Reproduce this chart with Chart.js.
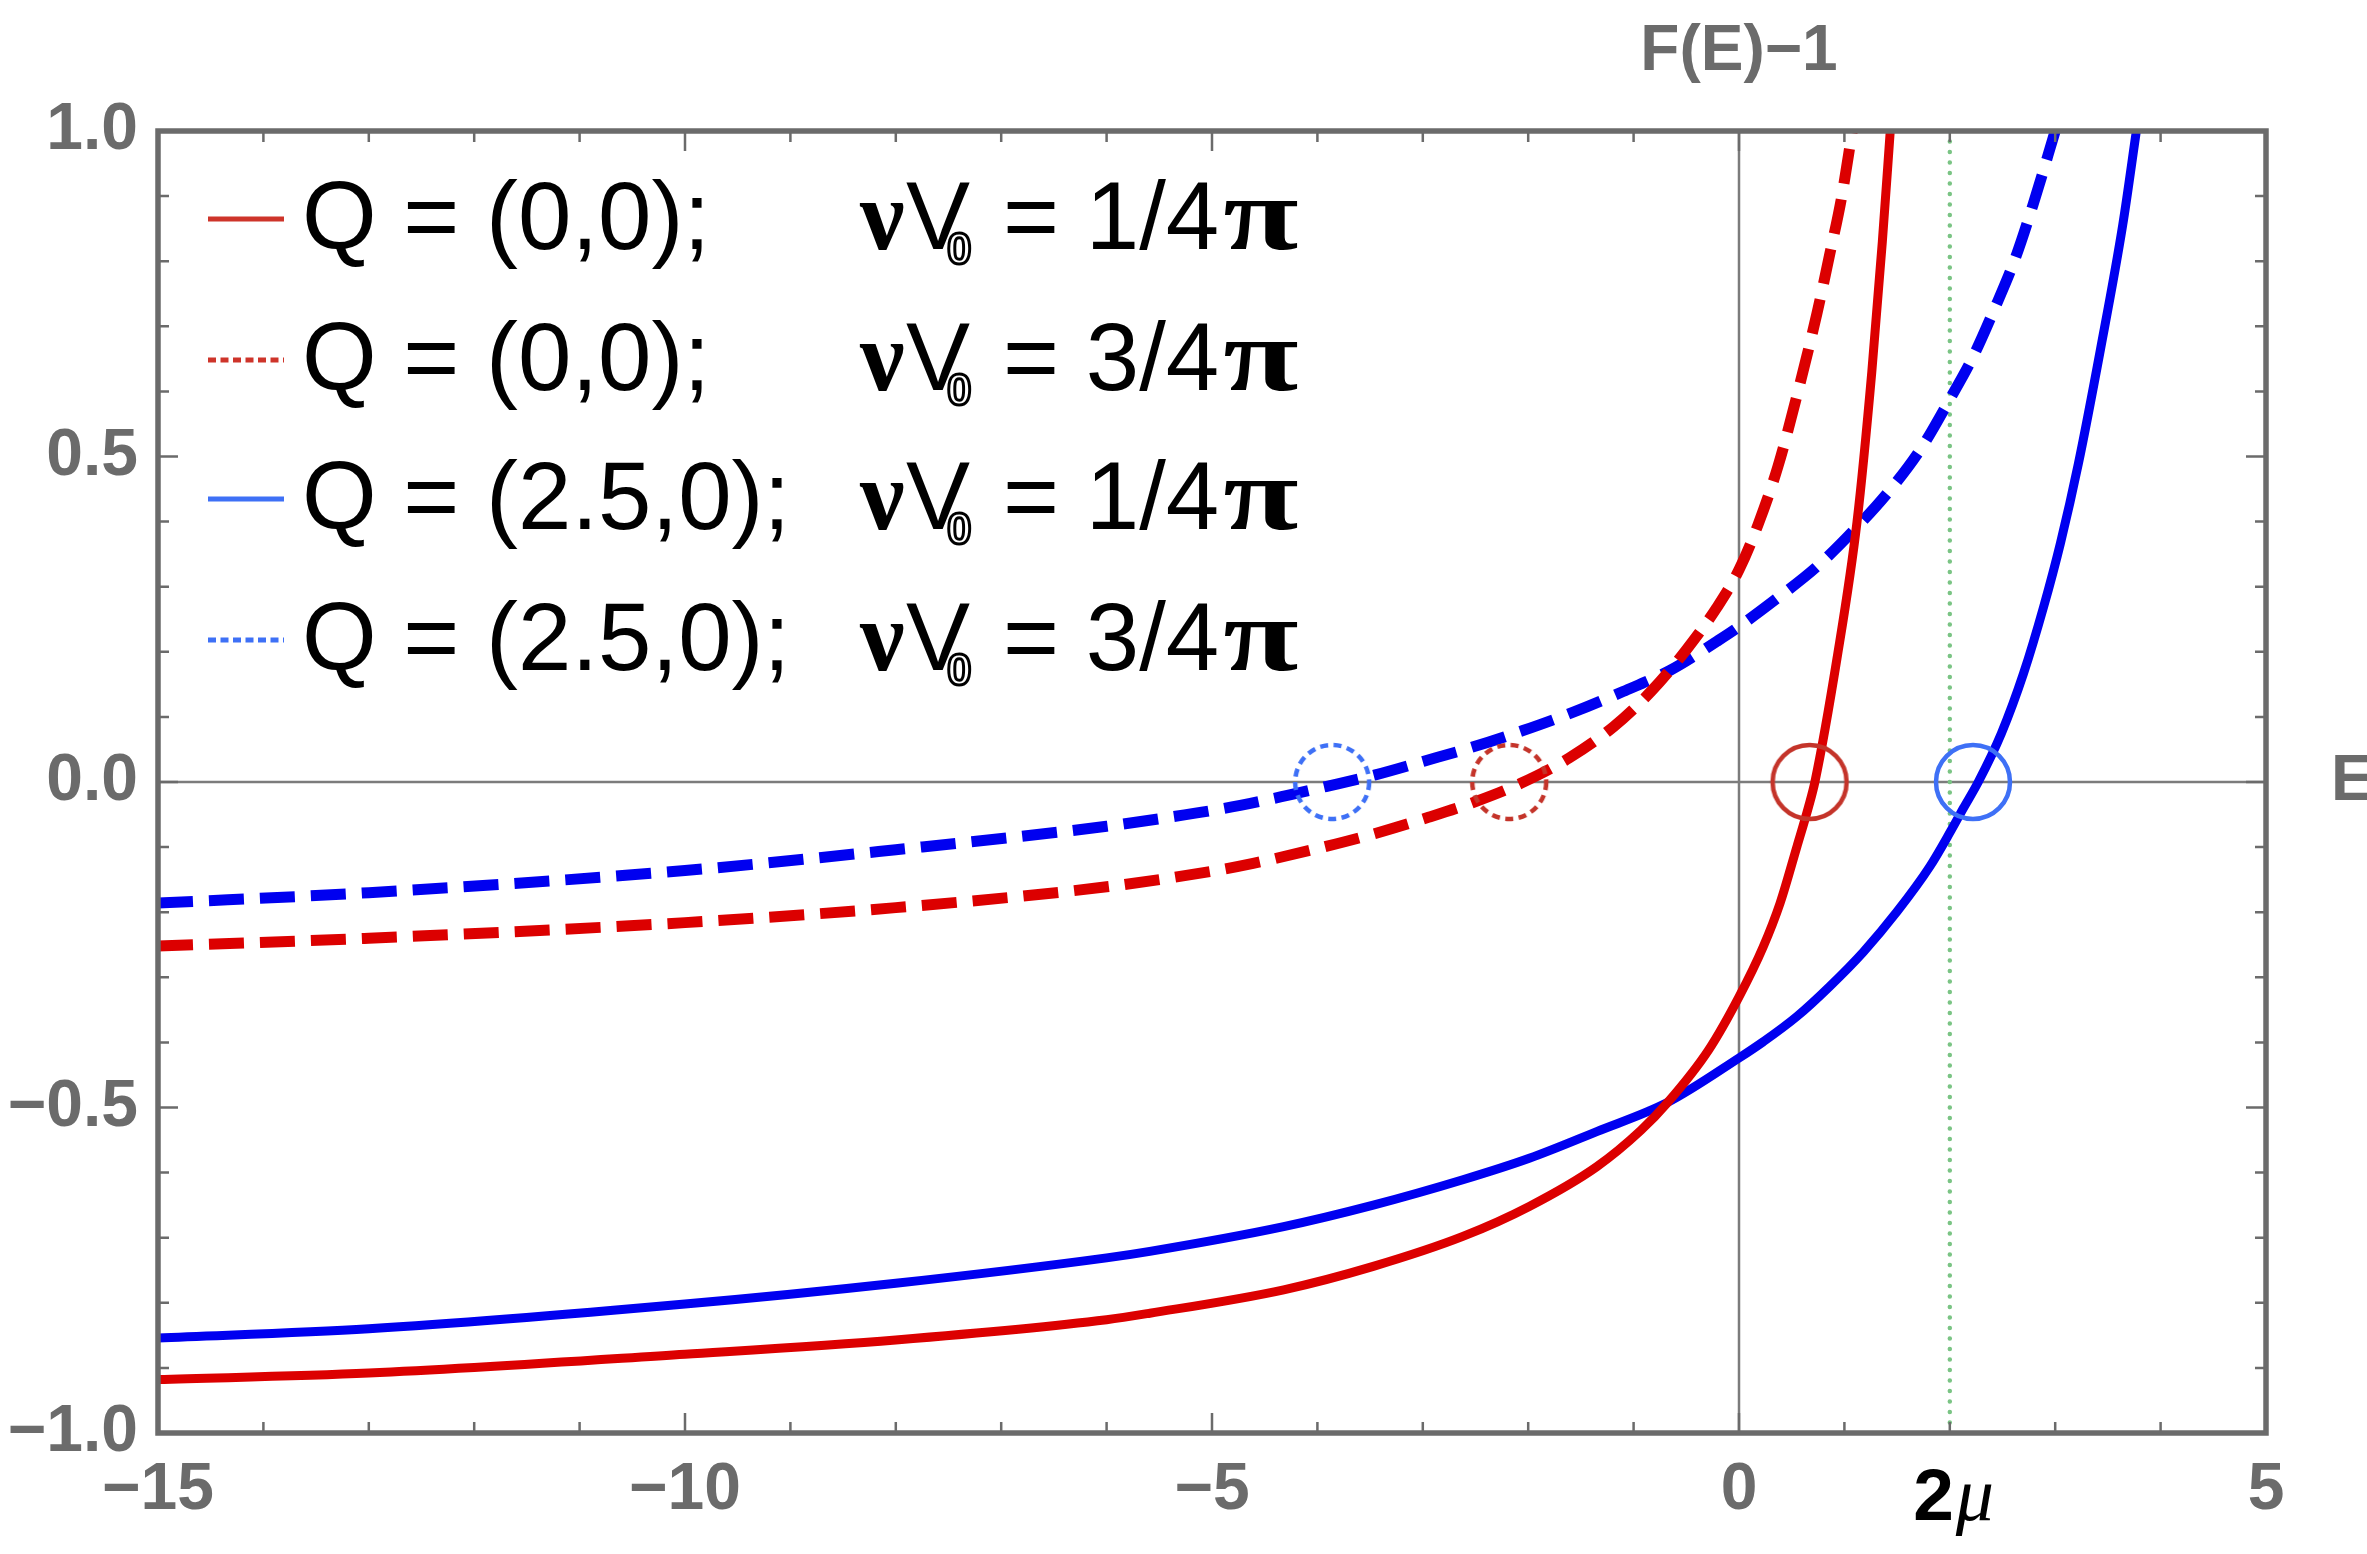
<!DOCTYPE html>
<html>
<head>
<meta charset="utf-8">
<script src="https://cdn.jsdelivr.net/npm/chart.js@4.4.0/dist/chart.umd.min.js"></script>
<style>
html,body{margin:0;padding:0;background:#ffffff;}
#wrap{width:2367px;height:1554px;position:relative;}
</style>
</head>
<body>
<div id="wrap"><canvas id="c"></canvas></div>
<script>
// ---------- data ----------
const redSolidE  = [-15, -13, -10, -8, -6, -5.59, -4.32, -3.47, -2.62, -1.99, -1.35, -0.93, -0.675, -0.29, 0, 0.23, 0.39, 0.55, 0.66, 0.72, 0.93, 1.12, 1.26, 1.36, 1.435];
const redSolidF  = [-0.918, -0.908, -0.879, -0.857, -0.826, -0.816, -0.780, -0.744, -0.698, -0.652, -0.591, -0.535, -0.492, -0.412, -0.330, -0.253, -0.186, -0.099, -0.038, 0, 0.19, 0.40, 0.63, 0.83, 1.0];

const redDashE   = [-15, -13, -10, -8, -6, -5, -4.61, -3.97, -3.45, -2.96, -2.48, -2.07, -1.61, -1.19, -0.83, -0.50, -0.21, 0, 0.18, 0.37, 0.56, 0.74, 0.86, 0.97, 1.075];
const redDashF   = [-0.252, -0.240, -0.216, -0.193, -0.161, -0.137, -0.125, -0.101, -0.079, -0.055, -0.029, -0.002, 0.037, 0.085, 0.140, 0.203, 0.268, 0.326, 0.395, 0.485, 0.60, 0.72, 0.81, 0.895, 1.0];

const blueSolidE = [-15, -13, -10, -8, -6, -5.59, -4.32, -3.47, -2.62, -1.99, -1.35, -0.675, 0, 0.23, 0.55, 0.86, 1.18, 1.50, 1.81, 2.01, 2.13, 2.27, 2.49, 2.70, 2.89, 3.05, 3.22, 3.43, 3.64, 3.77];
const blueSolidF = [-0.854, -0.840, -0.802, -0.770, -0.731, -0.721, -0.683, -0.650, -0.611, -0.578, -0.537, -0.492, -0.424, -0.399, -0.360, -0.314, -0.261, -0.199, -0.130, -0.075, -0.040, 0, 0.075, 0.167, 0.269, 0.367, 0.489, 0.665, 0.855, 1.0];

const blueDashE  = [-15, -13, -10, -8, -6, -5.44, -4.90, -4.41, -3.92, -3.45, -2.99, -2.52, -2.05, -1.56, -1.10, -0.65, -0.21, -0.05, 0.36, 0.74, 1.085, 1.43, 1.73, 1.99, 2.22, 2.43, 2.62, 2.79, 3.0];
const blueDashF  = [-0.186, -0.170, -0.136, -0.104, -0.068, -0.055, -0.041, -0.025, -0.007, 0.011, 0.032, 0.054, 0.079, 0.108, 0.139, 0.172, 0.216, 0.233, 0.282, 0.331, 0.386, 0.448, 0.513, 0.585, 0.653, 0.729, 0.804, 0.887, 1.0];

// zero crossings marked by circles: [redSolid, redDash, blueSolid, blueDash]
const circleE = [0.67, -2.18, 2.22, -3.86];

// 2 mu marker
const twoMuE = 2;

// axes
const xTickValues = [-15, -10, -5, 0, 5];
const yTickValues = [-1, -0.5, 0, 0.5, 1];
const xMinorStep = 1;
const yMinorStep = 0.1;

// legend
const legendQ = ['Q = (0,0);', 'Q = (0,0);', 'Q = (2.5,0);', 'Q = (2.5,0);'];
const legendV = ['= 1/4', '= 3/4', '= 1/4', '= 3/4'];

// ---------- helpers ----------
const RED = '#dc0000', BLUE = '#0000f0';
const CIRC_RED = 'rgb(196,52,42)', CIRC_BLUE = 'rgb(62,112,246)';
const GRAY = '#6b6b6b';
const pts = (xs, ys) => xs.map((x, i) => ({x: x, y: ys[i]}));

function circleStyle(color, dashed) {
  const r = 37, lw = 4.5, s = 2 * r + 10;
  const cv = document.createElement('canvas');
  cv.width = s; cv.height = s;
  const c = cv.getContext('2d');
  c.strokeStyle = color; c.lineWidth = lw;
  if (dashed) c.setLineDash([8, 5.5]);
  c.beginPath(); c.arc(s / 2, s / 2, r, 0, Math.PI * 2); c.stroke();
  return cv;
}

const curveBase = {showLine: true, pointRadius: 0, fill: false, cubicInterpolationMode: 'monotone', borderJoinStyle: 'round'};

const datasets = [
  {data: [{x: circleE[0], y: 0}], pointStyle: circleStyle(CIRC_RED, false), pointRadius: 42, showLine: false},
  {data: [{x: circleE[1], y: 0}], pointStyle: circleStyle(CIRC_RED, true), pointRadius: 42, showLine: false},
  {data: [{x: circleE[2], y: 0}], pointStyle: circleStyle(CIRC_BLUE, false), pointRadius: 42, showLine: false},
  {data: [{x: circleE[3], y: 0}], pointStyle: circleStyle(CIRC_BLUE, true), pointRadius: 42, showLine: false},
  Object.assign({data: pts(redSolidE, redSolidF), borderColor: RED, borderWidth: 9}, curveBase),
  Object.assign({data: pts(blueSolidE, blueSolidF), borderColor: BLUE, borderWidth: 9}, curveBase),
  Object.assign({data: pts(redDashE, redDashF), borderColor: RED, borderWidth: 11, borderDash: [35, 16]}, curveBase),
  Object.assign({data: pts(blueDashE, blueDashF), borderColor: BLUE, borderWidth: 11, borderDash: [35, 16]}, curveBase),
  {data: [{x: twoMuE, y: -1}, {x: twoMuE, y: 1}], showLine: true, pointRadius: 0, borderColor: 'rgb(122,196,132)',
   borderWidth: 4.5, borderDash: [0.1, 10.4], borderCapStyle: 'round'}
];

function fmt(v, dec) {
  const s = Math.abs(v).toFixed(dec);
  return v < 0 ? '\u2212' + s : s;
}

const framePlugin = {
  id: 'frame',
  beforeDatasetsDraw(chart) {
    const {ctx, chartArea: a, scales: {x, y}} = chart;
    ctx.save();
    ctx.strokeStyle = '#7c7c7c';
    ctx.lineWidth = 2.5;
    const x0 = x.getPixelForValue(0), y0 = y.getPixelForValue(0);
    ctx.beginPath();
    ctx.moveTo(x0, a.top); ctx.lineTo(x0, a.bottom);
    ctx.moveTo(a.left, y0); ctx.lineTo(a.right, y0);
    ctx.stroke();
    ctx.restore();
  },
  afterDatasetsDraw(chart) {
    const {ctx, chartArea: a, scales: {x, y}} = chart;
    ctx.save();
    ctx.strokeStyle = GRAY;
    ctx.lineWidth = 2.5;
    ctx.beginPath();
    for (let v = x.min; v <= x.max + 1e-9; v += xMinorStep) {
      const major = xTickValues.some(t => Math.abs(t - v) < 1e-6);
      const L = major ? 20 : 11;
      const px = x.getPixelForValue(v);
      ctx.moveTo(px, a.bottom); ctx.lineTo(px, a.bottom - L);
      ctx.moveTo(px, a.top); ctx.lineTo(px, a.top + L);
    }
    for (let k = 0; k <= Math.round((y.max - y.min) / yMinorStep); k++) {
      const v = y.min + k * yMinorStep;
      const major = yTickValues.some(t => Math.abs(t - v) < 1e-6);
      const L = major ? 20 : 11;
      const py = y.getPixelForValue(v);
      ctx.moveTo(a.left, py); ctx.lineTo(a.left + L, py);
      ctx.moveTo(a.right, py); ctx.lineTo(a.right - L, py);
    }
    ctx.stroke();
    ctx.lineWidth = 5.5;
    ctx.strokeRect(a.left, a.top, a.right - a.left, a.bottom - a.top);
    ctx.restore();
  },
  afterDraw(chart) {
    const {ctx, chartArea: a, scales: {x, y}} = chart;
    ctx.save();
    // axis labels
    ctx.fillStyle = GRAY;
    ctx.font = "bold 64px 'Liberation Sans', Arial, sans-serif";
    ctx.textAlign = 'center';
    ctx.textBaseline = 'alphabetic';
    ctx.fillText('F(E)\u22121', x.getPixelForValue(0), 70);
    ctx.textAlign = 'left';
    ctx.textBaseline = 'middle';
    ctx.fillText('E', 2331, y.getPixelForValue(0));
    // 2 mu
    ctx.fillStyle = '#000';
    ctx.textBaseline = 'alphabetic';
    const px2 = x.getPixelForValue(twoMuE);
    ctx.font = "bold 73px 'Liberation Sans', Arial, sans-serif";
    ctx.textAlign = 'right';
    ctx.fillText('2', px2 + 4, 1520);
    ctx.font = "italic 76px 'Liberation Serif', serif";
    ctx.textAlign = 'left';
    ctx.fillText('\u03bc', px2 + 6, 1520);

    // legend
    const styles = [
      {c: 'rgb(206,52,42)', dash: []},
      {c: 'rgb(206,52,42)', dash: [8, 4.5]},
      {c: 'rgb(62,112,246)', dash: []},
      {c: 'rgb(62,112,246)', dash: [8, 4.5]}
    ];
    const baselines = [249, 390, 529, 670];
    for (let i = 0; i < 4; i++) {
      const b = baselines[i];
      ctx.strokeStyle = styles[i].c;
      ctx.lineWidth = 5;
      ctx.setLineDash(styles[i].dash);
      ctx.beginPath(); ctx.moveTo(208, b - 30); ctx.lineTo(284, b - 30); ctx.stroke();
      ctx.setLineDash([]);
      ctx.fillStyle = '#000';
      ctx.textAlign = 'left';
      ctx.textBaseline = 'alphabetic';
      ctx.font = "96px 'Liberation Sans', Arial, sans-serif";
      ctx.fillText(legendQ[i], 302, b);
      ctx.font = "bold 100px 'Liberation Serif', serif";
      ctx.fillText('\u03bd', 860, b);
      ctx.font = "96px 'Liberation Sans', Arial, sans-serif";
      ctx.fillText('V', 906, b);
      ctx.font = "bold 44px 'Liberation Sans', Arial, sans-serif";
      ctx.lineWidth = 3;
      ctx.strokeStyle = '#000';
      ctx.strokeText('0', 947, b + 15);
      ctx.font = "96px 'Liberation Sans', Arial, sans-serif";
      ctx.fillText(legendV[i], 1003, b);
      const w = ctx.measureText(legendV[i]).width;
      ctx.save();
      ctx.translate(1003 + w + 4, b);
      ctx.scale(1.32, 1);
      ctx.font = "bold 104px 'Liberation Serif', serif";
      ctx.fillText('\u03c0', 0, 0);
      ctx.restore();
    }
    ctx.restore();
  }
};

const tickFont = {family: "'Liberation Sans', Arial, sans-serif", size: 66, weight: 'bold'};

new Chart(document.getElementById('c'), {
  type: 'scatter',
  data: {datasets: datasets},
  options: {
    responsive: true,
    maintainAspectRatio: false,
    devicePixelRatio: 1,
    animation: false,
    events: [],
    layout: {padding: {top: 131, right: 101, left: 0, bottom: 0}},
    plugins: {legend: {display: false}, tooltip: {enabled: false}},
    scales: {
      x: {
        type: 'linear', min: -15, max: 5,
        grid: {display: false, drawTicks: false},
        border: {display: false},
        afterBuildTicks: s => { s.ticks = xTickValues.map(v => ({value: v})); },
        afterFit: s => { s.height = 121; },
        ticks: {color: GRAY, font: tickFont, padding: 18, maxRotation: 0, autoSkip: false,
                callback: v => fmt(v, 0)}
      },
      y: {
        type: 'linear', min: -1, max: 1,
        grid: {display: false, drawTicks: false},
        border: {display: false},
        afterBuildTicks: s => { s.ticks = yTickValues.map(v => ({value: v})); },
        afterFit: s => { s.width = 158; },
        ticks: {color: GRAY, font: tickFont, padding: 20, autoSkip: false,
                callback: v => fmt(v, 1)}
      }
    }
  },
  plugins: [framePlugin]
});
</script>
</body>
</html>
